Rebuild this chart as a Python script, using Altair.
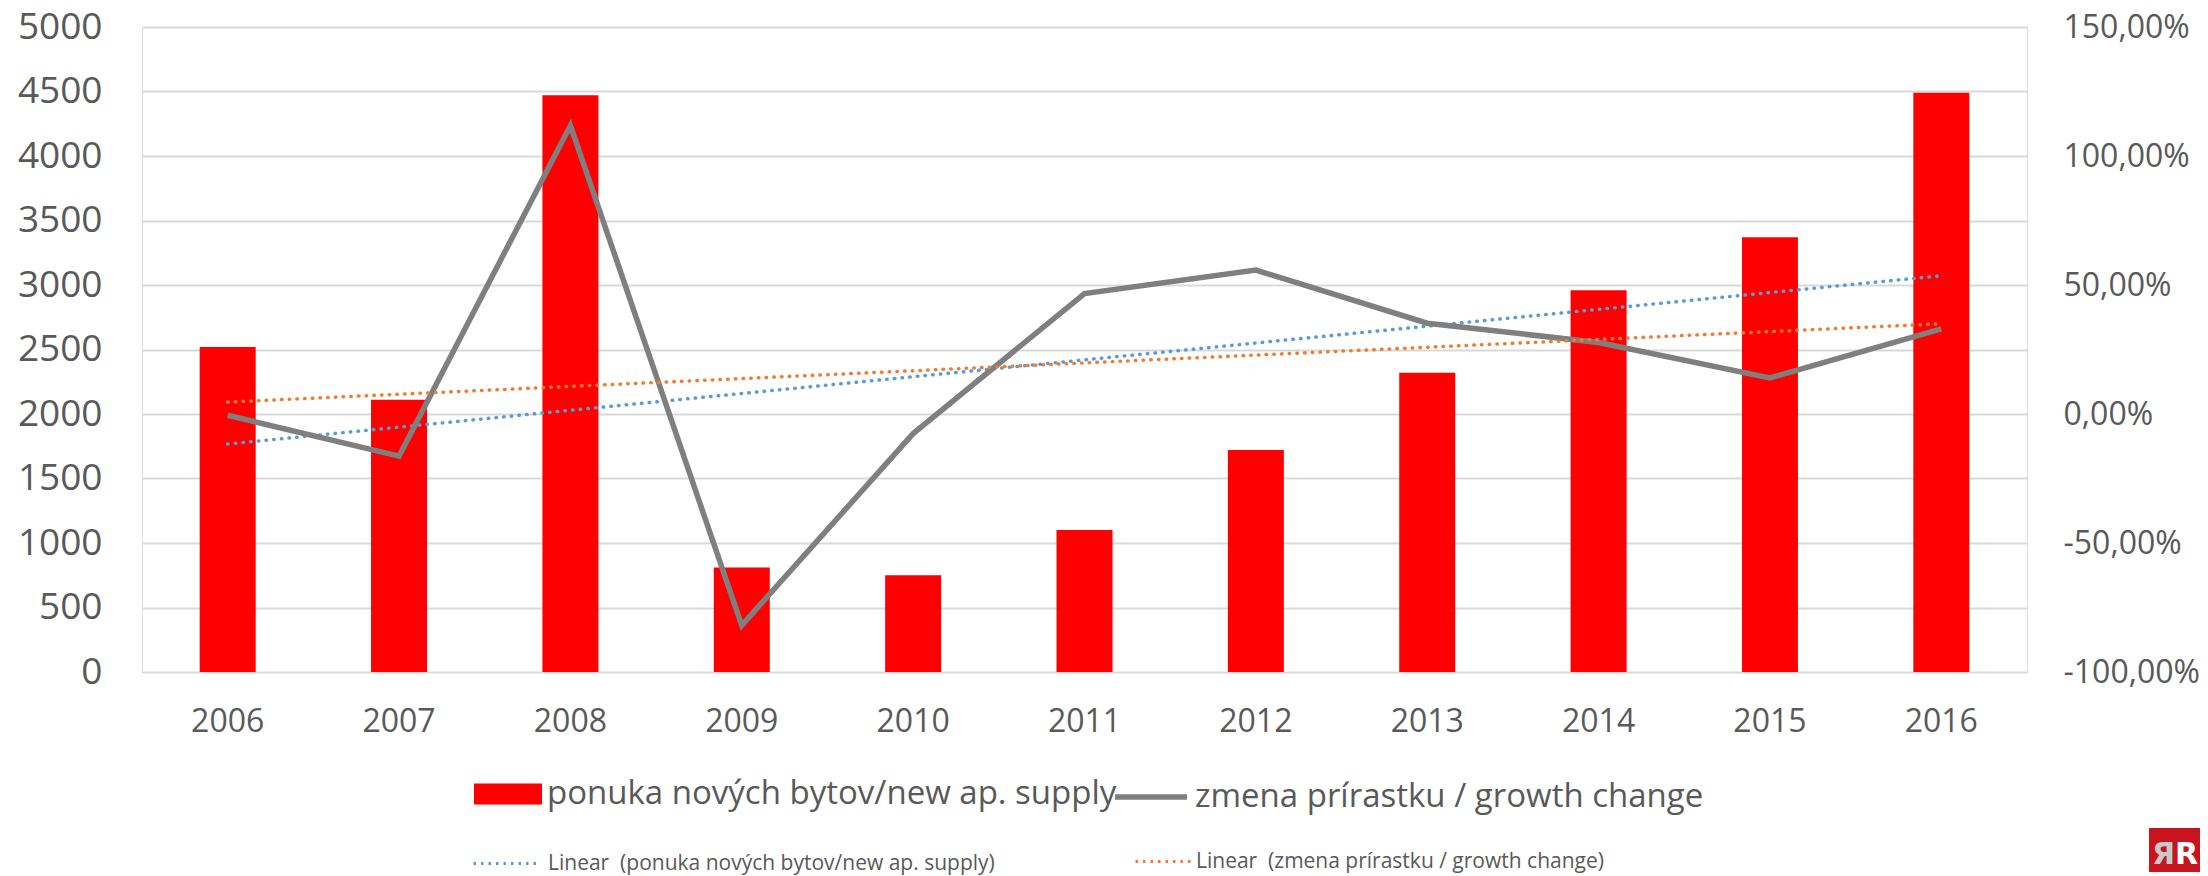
import altair as alt
import pandas as pd

years = [2006, 2007, 2008, 2009, 2010, 2011, 2012, 2013, 2014, 2015, 2016]
supply = [2520, 2110, 4470, 810, 750, 1100, 1720, 2320, 2960, 3370, 4490]
growth = [-0.005, -0.163, 1.118, -0.819, -0.076, 0.467, 0.558, 0.352, 0.277, 0.140, 0.330]

bar_name = "ponuka nových bytov/new ap. supply"
line_name = "zmena prírastku / growth change"
trend1_name = "Linear\u00a0 (ponuka nových bytov/new ap. supply)"
trend2_name = "Linear\u00a0 (zmena prírastku / growth change)"

left_ticks = list(range(0, 5001, 500))
right_ticks = [-1.0, -0.5, 0.0, 0.5, 1.0, 1.5]

df = pd.DataFrame({"year": years, "supply": supply, "growth": growth})

TXT = "#595959"
FONT = "Open Sans"
HLINE = "M-1,0L1,0"

base = alt.Chart(df)

x_enc = alt.X("year:O", title=None,
              scale=alt.Scale(paddingInner=0, paddingOuter=0),
              axis=alt.Axis(labelAngle=0, labelFontSize=32, labelColor=TXT, labelFont=FONT,
                            ticks=False, domain=False, labelPadding=34))

bars = base.mark_bar(size=56, color="#FF0000").transform_calculate(
    s1=f"'{bar_name}'"
).encode(
    x=x_enc,
    y=alt.Y("supply:Q", title=None,
            scale=alt.Scale(domain=[0, 5000], nice=False),
            axis=alt.Axis(orient="left", values=left_ticks, format="d", labelFontSize=37,
                          labelColor=TXT, labelFont=FONT, ticks=False, domain=False, grid=True,
                          gridColor="#D9D9D9", gridWidth=2, labelPadding=40)),
    color=alt.Color("s1:N", scale=alt.Scale(domain=[bar_name], range=["#FF0000"]),
                    legend=alt.Legend(orient="none", legendX=332, legendY=733, title=None,
                                      symbolType="M-1,-0.31L1,-0.31L1,0.31L-1,0.31Z",
                                      symbolSize=4624, symbolStrokeWidth=0,
                                      labelFontSize=33, labelColor=TXT, labelFont=FONT,
                                      labelOffset=5, labelLimit=2000, padding=0)),
)

trend1 = base.transform_regression("year", "supply", method="linear").transform_calculate(
    s2=f"'{trend1_name}'"
).mark_line(strokeWidth=3.5, strokeDash=[0.5, 7.2], strokeCap="round").encode(
    x=alt.X("year:O"),
    y=alt.Y("supply:Q", scale=alt.Scale(domain=[0, 5000], nice=False), axis=None),
    color=alt.Color("s2:N", scale=alt.Scale(domain=[trend1_name], range=["#5B9BD5"]),
                    legend=alt.Legend(orient="none", legendX=330, legendY=802, title=None,
                                      symbolType=HLINE, symbolSize=4356,
                                      symbolStrokeWidth=3, symbolDash=[2.5, 5],
                                      labelFontSize=21, labelColor=TXT, labelFont=FONT,
                                      labelOffset=7, labelLimit=2000, padding=0)),
)

pct_expr = "replace(replace(format(datum.value, '.2%'), '.', ','), '\u2212', '-')"

line = base.mark_line(strokeWidth=5.5, color="#7F7F7F").transform_calculate(
    s3=f"'{line_name}'"
).encode(
    x=alt.X("year:O"),
    y=alt.Y("growth:Q", title=None,
            scale=alt.Scale(domain=[-1.0, 1.5], nice=False),
            axis=alt.Axis(orient="right", values=right_ticks, labelExpr=pct_expr,
                          labelFontSize=32, labelColor=TXT, labelFont=FONT, ticks=False,
                          domain=False, grid=False, labelPadding=36)),
    color=alt.Color("s3:N", scale=alt.Scale(domain=[line_name], range=["#7F7F7F"]),
                    legend=alt.Legend(orient="none", legendX=970, legendY=731, title=None,
                                      symbolType=HLINE, symbolSize=5184,
                                      symbolStrokeWidth=5.5,
                                      labelFontSize=33, labelColor=TXT, labelFont=FONT,
                                      labelOffset=5, labelLimit=2000, padding=0)),
)

trend2 = base.transform_regression("year", "growth", method="linear").transform_calculate(
    s4=f"'{trend2_name}'"
).mark_line(strokeWidth=3.5, strokeDash=[0.5, 7.2], strokeCap="round").encode(
    x=alt.X("year:O"),
    y=alt.Y("growth:Q", scale=alt.Scale(domain=[-1.0, 1.5], nice=False), axis=None),
    color=alt.Color("s4:N", scale=alt.Scale(domain=[trend2_name], range=["#ED7D31"]),
                    legend=alt.Legend(orient="none", legendX=992, legendY=805, title=None,
                                      symbolType=HLINE, symbolSize=3136,
                                      symbolStrokeWidth=3, symbolDash=[2.5, 5],
                                      labelFontSize=21, labelColor=TXT, labelFont=FONT,
                                      labelOffset=3, labelLimit=2000, padding=0)),
)

# small corner logo
logo_df = pd.DataFrame({"k": [0]})
logo_bg = alt.Chart(logo_df).mark_rect(color="#C8141E").encode(
    x=alt.value(2007), x2=alt.value(2058), y=alt.value(801), y2=alt.value(845)
)
logo_l = alt.Chart(logo_df).mark_text(text="Я", font="DejaVu Sans", fontWeight="bold",
                                      fontSize=30, color="#C9C9C9", align="left",
                                      baseline="top").encode(
    x=alt.value(2010), y=alt.value(813)
)
logo_r = alt.Chart(logo_df).mark_text(text="R", font="DejaVu Sans", fontWeight="bold",
                                      fontSize=30, color="#FFFFFF", align="left",
                                      baseline="top").encode(
    x=alt.value(2033), y=alt.value(813)
)

chart = alt.layer(bars, trend1, line, trend2, logo_bg, logo_l, logo_r).resolve_scale(
    y="independent", color="independent"
).properties(
    width=1885, height=645,
    padding={"left": 134, "top": 19, "right": 173, "bottom": 204},
    autosize=alt.AutoSizeParams(type="none"),
).configure_view(stroke=None).configure(font=FONT)

chart.save("out.html", embed_options={"renderer": "svg", "actions": False})
